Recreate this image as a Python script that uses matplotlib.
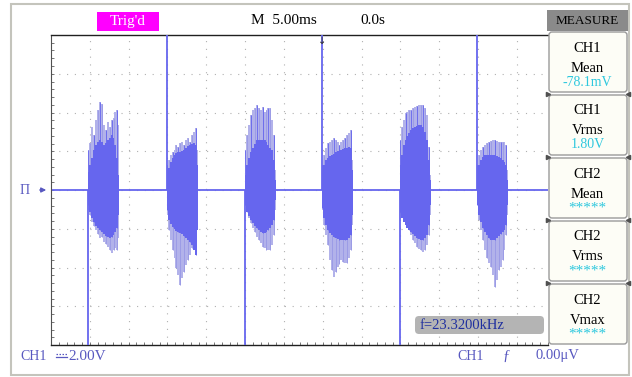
import matplotlib.pyplot as plt
from matplotlib.patches import FancyBboxPatch, Rectangle
from matplotlib.ticker import MultipleLocator

# scope settings: 5 ms/div, 2 V/div, 8 vertical divisions
t_max = 64.0
v_max = 8.0

# burst start times (ms) and the spike at each start (V)
burst_start = [4.8, 14.9, 25.0, 34.9, 44.9, 54.9]
spike_v = [-8.0, 8.0, -8.0, 8.0, -8.0, 8.0]

# offsets inside one burst (ms)
burst_dt = [0, 0.25, 0.5, 0.75, 1.0, 1.25, 1.5, 1.75, 2.0, 2.25, 2.5, 2.75, 3.0, 3.25, 3.5, 3.75, 4.0]

# outer (light) envelope of each burst, V
outer_top = [
    [2.06, 2.43, 3.25, 2.84, 3.61, 4.13, 4.54, 4.44, 3.35, 3.10, 3.51, 3.25, 3.61, 3.72, 4.02, 4.13, 3.35],
    [1.29, 1.55, 1.81, 1.96, 2.06, 2.32, 2.22, 2.43, 2.48, 2.32, 2.58, 2.68, 2.48, 2.84, 2.99, 3.20, 2.06],
    [2.06, 2.84, 3.35, 3.87, 4.13, 4.23, 4.39, 4.23, 4.13, 4.28, 4.02, 4.13, 4.23, 4.23, 3.61, 2.84, 1.03],
    [1.29, 1.81, 2.17, 2.43, 2.48, 2.58, 2.68, 2.58, 2.48, 2.32, 2.48, 2.58, 2.68, 2.84, 2.94, 3.10, 1.55],
    [2.58, 3.25, 3.61, 3.97, 4.02, 4.13, 4.13, 4.23, 4.28, 4.34, 4.39, 4.39, 4.39, 4.23, 3.87, 2.22, 0.77],
    [1.29, 1.81, 2.06, 2.22, 2.32, 2.43, 2.48, 2.53, 2.58, 2.58, 2.53, 2.48, 2.48, 2.48, 2.48, 2.32, 1.03],
]
outer_bot = [
    [-1.03, -1.29, -1.65, -1.86, -2.06, -2.27, -2.48, -2.43, -2.68, -2.79, -2.94, -3.10, -3.25, -3.10, -2.99, -3.10, -2.48],
    [-1.29, -2.06, -2.58, -3.10, -3.51, -4.03, -4.39, -4.90, -4.54, -4.23, -3.87, -3.61, -3.35, -2.99, -2.84, -2.32, -1.81],
    [-0.77, -1.14, -1.44, -1.70, -1.96, -2.17, -2.43, -2.58, -2.74, -2.94, -2.99, -3.10, -3.10, -3.10, -2.84, -2.32, -1.03],
    [-1.03, -1.81, -2.32, -2.84, -3.61, -4.13, -4.49, -4.23, -3.97, -3.82, -3.61, -3.72, -3.77, -3.77, -3.51, -3.10, -1.81],
    [-0.77, -1.03, -1.29, -1.55, -1.81, -2.06, -2.32, -2.58, -2.74, -2.94, -3.04, -3.10, -3.20, -3.10, -2.84, -2.32, -1.29],
    [-0.77, -1.55, -2.06, -2.58, -3.10, -3.51, -3.77, -3.97, -4.39, -5.01, -4.64, -4.13, -3.97, -3.61, -3.10, -2.32, -1.29],
]

# dense (dark) core of each burst, V
core_top = [
    [0.93, 1.29, 1.65, 2.06, 2.32, 2.48, 2.58, 2.48, 2.32, 2.43, 2.58, 2.68, 2.84, 2.68, 2.32, 1.65, 0.77],
    [0.93, 1.14, 1.44, 1.65, 1.81, 1.91, 1.96, 1.96, 2.01, 2.06, 2.17, 2.27, 2.32, 2.37, 2.43, 2.32, 1.29],
    [0.77, 1.29, 1.65, 1.96, 2.17, 2.37, 2.58, 2.58, 2.58, 2.58, 2.58, 2.48, 2.32, 2.17, 2.06, 1.55, 0.52],
    [0.93, 1.29, 1.55, 1.65, 1.75, 1.81, 1.86, 1.96, 2.01, 2.06, 2.06, 2.12, 2.17, 2.17, 2.22, 2.17, 1.03],
    [1.29, 1.81, 2.32, 2.58, 2.79, 2.94, 3.10, 3.20, 3.25, 3.30, 3.35, 3.35, 3.25, 2.99, 2.58, 1.55, 0.52],
    [0.77, 1.29, 1.55, 1.70, 1.81, 1.81, 1.81, 1.81, 1.81, 1.81, 1.75, 1.70, 1.65, 1.55, 1.44, 1.29, 0.52],
]
core_bot = [
    [-0.77, -1.14, -1.44, -1.65, -1.86, -1.96, -2.06, -2.17, -2.27, -2.37, -2.43, -2.48, -2.43, -2.32, -2.17, -1.96, -1.29],
    [-1.03, -1.55, -1.75, -1.91, -2.01, -2.12, -2.17, -2.22, -2.27, -2.37, -2.48, -2.58, -2.68, -2.84, -3.10, -3.35, -2.06],
    [-0.77, -1.14, -1.34, -1.55, -1.70, -1.86, -1.96, -2.06, -2.17, -2.22, -2.22, -2.17, -2.06, -1.96, -1.81, -1.55, -0.52],
    [-0.93, -1.44, -1.81, -2.06, -2.22, -2.32, -2.43, -2.48, -2.53, -2.58, -2.58, -2.58, -2.58, -2.58, -2.48, -2.32, -1.29],
    [-1.14, -1.44, -1.65, -1.81, -1.96, -2.06, -2.17, -2.27, -2.37, -2.48, -2.53, -2.58, -2.58, -2.48, -2.32, -1.81, -0.77],
    [-0.77, -1.29, -1.65, -1.96, -2.17, -2.32, -2.48, -2.58, -2.58, -2.58, -2.48, -2.37, -2.27, -2.17, -2.06, -1.81, -0.77],
]

measure_ch = ["CH1", "CH1", "CH2", "CH2", "CH2"]
measure_name = ["Mean", "Vrms", "Mean", "Vrms", "Vmax"]
measure_val = ["-78.1mV", "1.80V", "*****", "*****", "*****"]

SERIF = "Liberation Serif"
WAVE = "#6666ee"
WAVE_LIGHT = "#b2b2ea"
CYAN = "#2ec8de"
SLATE = "#5858c0"

W, H = 632, 377
fig = plt.figure(figsize=(W / 100, H / 100), dpi=100)
fig.patch.set_facecolor("white")

# scope screen, placed in pixels
sx0, sx1, sy0, sy1 = 51, 548, 35, 345
ax = fig.add_axes([sx0 / W, 1 - sy1 / H, (sx1 - sx0) / W, (sy1 - sy0) / H])
ax.set_xlim(0, t_max)
ax.set_ylim(-v_max, v_max)
ax.set_facecolor("white")

for t in range(5, 64, 5):
    ax.axvline(t, color="#b0b0b0", lw=0.8, ls=(0, (1, 6)), zorder=0)
for v in range(-6, 7, 2):
    ax.axhline(v, color="#b0b0b0", lw=0.8, ls=(0, (1, 6)), zorder=0)

ax.axhline(0, color=WAVE, lw=1.3, zorder=2)
for i, t0 in enumerate(burst_start):
    tt = [t0 + d for d in burst_dt]
    ax.fill_between(tt, outer_bot[i], outer_top[i], color=WAVE_LIGHT, lw=0, step="mid", zorder=2)
    ax.vlines(tt[1::2], outer_bot[i][1::2], outer_top[i][1::2], color="#9c9ce6", lw=0.7, zorder=2)
    ax.fill_between(tt, core_bot[i], core_top[i], color=WAVE, lw=0, step="mid", zorder=3)
    ax.vlines(tt[::3], core_bot[i][::3], outer_top[i][::3], color=WAVE, lw=0.6, zorder=3)
    ax.vlines(t0, 0, spike_v[i], color=WAVE, lw=1.3, zorder=4)

ax.set_xticks([])
ax.set_yticks([])
ax.xaxis.set_minor_locator(MultipleLocator(1.0))
ax.yaxis.set_minor_locator(MultipleLocator(0.4))
ax.tick_params(which="minor", direction="in", length=2.5, color="#606060", left=True, bottom=True)
for s in ["top", "bottom"]:
    ax.spines[s].set_color("#202020")
    ax.spines[s].set_linewidth(1.0)
ax.spines["left"].set_color("#505050")
ax.spines["right"].set_visible(False)

# overlay for the surrounding scope interface, in pixel units
ov = fig.add_axes([0, 0, 1, 1], zorder=5)
ov.set_xlim(0, W)
ov.set_ylim(H, 0)
ov.axis("off")
ov.patch.set_alpha(0)

ov.add_patch(Rectangle((11, 4), 618, 371, fill=False, ec="#c4c4bc", lw=1.5))

ov.add_patch(Rectangle((97, 12), 62, 19, fc="#ff00ff", ec="none"))
ov.text(128, 21.5, "Trig'd", color="white", fontsize=11, family=SERIF, ha="center", va="center")
ov.text(284, 21, "M  5.00ms", color="black", fontsize=11, family=SERIF, ha="center", va="center")
ov.text(373, 21, "0.0s", color="black", fontsize=11, family=SERIF, ha="center", va="center")
ov.text(322, 41, "\u2193", color="#303030", fontsize=7, ha="center", va="center")

# measure panel
ov.add_patch(Rectangle((547, 10), 81, 21, fc="#8a8a8a", ec="none"))
ov.text(587.5, 21, "MEASURE", color="black", fontsize=9.5, family=SERIF, ha="center", va="center")
for i in range(5):
    top = 31 + 63 * i
    ov.add_patch(FancyBboxPatch((549, top + 1), 78, 60, boxstyle="round,pad=0,rounding_size=3",
                                fc="#fdfdf6", ec="#9a9a9a", lw=1))
    ov.text(587.5, top + 17, measure_ch[i], color="black", fontsize=10.5, family=SERIF, ha="center", va="center")
    ov.text(587.5, top + 37, measure_name[i], color="black", fontsize=10.5, family=SERIF, ha="center", va="center")
    ov.text(587.5, top + 51, measure_val[i], color=CYAN, fontsize=10 if i < 2 else 11,
            family=SERIF, ha="center", va="center")
    if i > 0:
        ov.plot([548], [top], marker=">", ms=3, color="#505050")
        ov.plot([628], [top], marker="<", ms=3, color="#505050")

# ground marker
ov.text(25, 190, "\u03a0", color=SLATE, fontsize=10, family=SERIF, ha="center", va="center")
ov.annotate("", xy=(49, 190), xytext=(37, 190),
            arrowprops=dict(arrowstyle="-|>", color=SLATE, lw=1, mutation_scale=7))

# frequency box
ov.add_patch(FancyBboxPatch((415, 316), 129, 18, boxstyle="round,pad=0,rounding_size=4",
                            fc="#b4b4b4", ec="none"))
ov.text(420, 325.5, "f=23.3200kHz", color="#1f2f9f", fontsize=10.5, family=SERIF, ha="left", va="center")

# bottom status line; the DC coupling sign is drawn as a shape
ov.text(20, 356, "CH1", color=SLATE, fontsize=10, family=SERIF, ha="left", va="center")
ov.plot([56, 67], [353.5, 353.5], color=SLATE, lw=0.9, ls=(0, (1.2, 1.2)))
ov.plot([56, 67], [357, 357], color=SLATE, lw=0.9)
ov.text(68, 356, "2.00V", color=SLATE, fontsize=11, family=SERIF, ha="left", va="center")
ov.text(457, 356, "CH1", color=SLATE, fontsize=10, family=SERIF, ha="left", va="center")
ov.text(506, 356, "\u0192", color=SLATE, fontsize=11, family=SERIF, ha="center", va="center")
ov.text(536, 356, "0.00\u03bcV", color=SLATE, fontsize=10.5, family=SERIF, ha="left", va="center")

fig.savefig("out.png", dpi=100)
